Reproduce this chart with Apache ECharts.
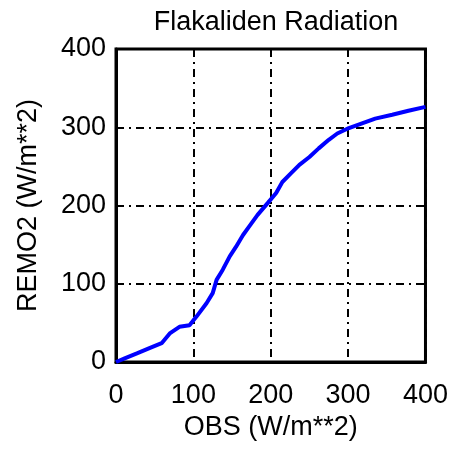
<!DOCTYPE html>
<html>
<head>
<meta charset="utf-8">
<script src="https://cdn.jsdelivr.net/npm/echarts@6/dist/echarts.min.js"></script>
<style>
  html, body { margin: 0; padding: 0; background: #fff; }
  #chart { width: 451px; height: 450px; }
</style>
</head>
<body>
<div id="chart"></div>
<script>
// values
const obs = [0, 12, 27, 44, 59, 70, 82, 95, 104, 117, 125, 130, 138, 147, 155, 164, 172, 183, 196, 207, 215, 226, 237, 250, 262, 275, 286, 301, 318, 335, 357, 378, 400];
const remo2 = [0, 5, 11, 18, 24, 37, 45, 47, 58, 75, 88, 105, 118, 135, 147, 162, 173, 188, 203, 216, 230, 241, 252, 262, 273, 284, 292, 299, 305, 311, 316, 321, 326];
const ticks = [0, 100, 200, 300, 400];

const font = "'Liberation Sans', Arial, sans-serif";

const gridLine = {
  show: true,
  lineStyle: { color: "#000", width: 2, type: [8, 5, 2, 5] },
};

const chart = echarts.init(document.getElementById("chart"));

chart.setOption({
  animation: false,
  title: {
    text: "Flakaliden Radiation",
    left: 271,
    top: 4,
    textAlign: "center",
    textStyle: { color: "#000", fontSize: 27, fontWeight: "normal", fontFamily: font },
  },
  grid: {
    left: 116,
    right: 24,
    top: 49,
    bottom: 88,
    show: true,
    borderColor: "#000",
    borderWidth: 3,
  },
  xAxis: {
    type: "value",
    min: ticks[0],
    max: ticks[ticks.length - 1],
    interval: 100,
    name: "OBS (W/m**2)",
    nameLocation: "middle",
    nameGap: 52,
    nameTextStyle: { color: "#000", fontSize: 27, fontFamily: font },
    axisLine: { show: true, lineStyle: { color: "#000", width: 3 } },
    axisTick: { show: false },
    axisLabel: { color: "#000", fontSize: 27, fontFamily: font, margin: 20 },
    splitLine: gridLine,
  },
  yAxis: {
    type: "value",
    min: ticks[0],
    max: ticks[ticks.length - 1],
    interval: 100,
    name: "REMO2 (W/m**2)",
    nameLocation: "middle",
    nameGap: 74,
    nameTextStyle: { color: "#000", fontSize: 27, fontFamily: font },
    axisLine: { show: true, lineStyle: { color: "#000", width: 3 } },
    axisTick: { show: false },
    axisLabel: { color: "#000", fontSize: 27, fontFamily: font, margin: 10 },
    splitLine: gridLine,
  },
  series: [
    {
      type: "line",
      data: obs.map((x, i) => [x, remo2[i]]),
      showSymbol: false,
      clip: false,
      lineStyle: { color: "#0000ff", width: 4 },
    },
  ],
});
</script>
</body>
</html>
